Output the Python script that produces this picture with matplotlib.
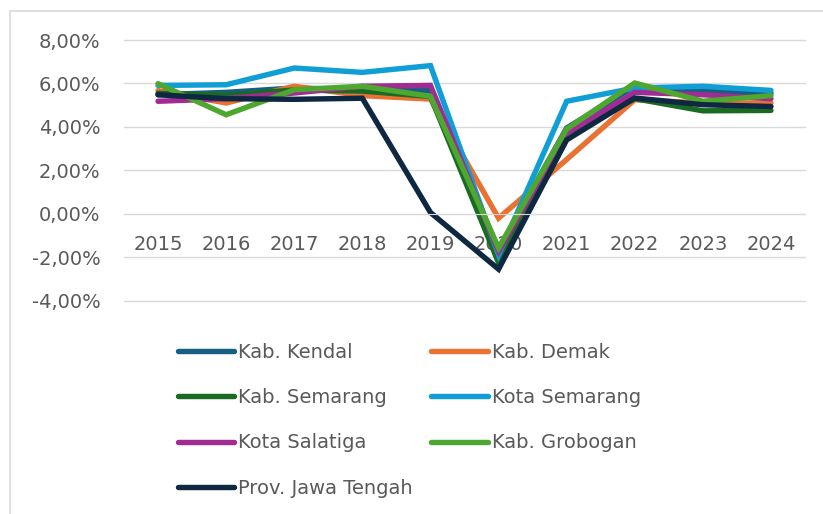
import numpy as np
import matplotlib.pyplot as plt
from matplotlib.patches import Rectangle
from matplotlib.ticker import FuncFormatter

plt.rcParams['font.family'] = ['DejaVu Sans']

years = ["2015", "2016", "2017", "2018", "2019", "2020", "2021", "2022", "2023", "2024"]

kendal = [5.48, 5.59, 5.79, 5.71, 5.67, -1.65, 3.95, 5.87, 5.64, 5.55]
demak = [5.67, 5.10, 5.87, 5.44, 5.28, -0.20, 2.50, 5.25, 5.10, 5.10]
kab_semarang = [5.55, 5.45, 5.70, 5.65, 5.40, -2.25, 3.70, 5.30, 4.74, 4.76]
kota_semarang = [5.91, 5.94, 6.71, 6.51, 6.82, -1.89, 5.18, 5.79, 5.87, 5.68]
salatiga = [5.18, 5.30, 5.56, 5.87, 5.91, -1.73, 3.70, 5.59, 5.48, 5.30]
grobogan = [5.99, 4.56, 5.71, 5.87, 5.41, -1.57, 3.90, 6.02, 5.18, 5.44]
jateng = [5.48, 5.30, 5.27, 5.32, 0.06, -2.55, 3.40, 5.33, 5.02, 4.94]

series = [
    ("Kab. Kendal", kendal, "#156082"),
    ("Kab. Demak", demak, "#E97132"),
    ("Kab. Semarang", kab_semarang, "#196B24"),
    ("Kota Semarang", kota_semarang, "#0F9ED5"),
    ("Kota Salatiga", salatiga, "#A02B93"),
    ("Kab. Grobogan", grobogan, "#4EA72E"),
    ("Prov. Jawa Tengah", jateng, "#0E2841"),
]

fig = plt.figure(figsize=(8.23, 5.14), dpi=100)
W, H = 823, 514
ax = fig.add_axes([124 / W, 1 - 300.7 / H, (805 - 124) / W, (300.7 - 40) / H])

x = np.arange(len(years))
lines = {}
for name, vals, col in series:
    ln, = ax.plot(x, vals, color=col, lw=3.9, solid_joinstyle='miter',
                  solid_capstyle='round', label=name)
    lines[name] = ln

ax.set_xlim(-0.5, len(years) - 0.5)
ax.set_ylim(-4, 8)
ax.set_yticks(np.arange(-4, 9, 2))
ax.yaxis.set_major_formatter(FuncFormatter(lambda v, p: f"{v:.2f}%".replace(".", ",")))
ax.grid(axis='y', color='#D9D9D9', lw=1.0)
for gl in ax.get_ygridlines():
    gl.set_clip_on(False)
ax.set_axisbelow(True)
for s in ['top', 'right', 'left']:
    ax.spines[s].set_visible(False)
ax.spines['bottom'].set_position(('data', 0))
ax.spines['bottom'].set_color('#D9D9D9')
ax.set_xticks(x)
ax.set_xticklabels(years)
ax.tick_params(axis='x', length=0, pad=15, labelsize=14, colors='#595959')
ax.tick_params(axis='y', length=0, pad=17, labelsize=14, colors='#595959')

# Excel fills the legend row by row, matplotlib column by column
order = ["Kab. Kendal", "Kab. Semarang", "Kota Salatiga", "Prov. Jawa Tengah",
         "Kab. Demak", "Kota Semarang", "Kab. Grobogan"]
leg = fig.legend([lines[n] for n in order], order, ncol=2, frameon=False,
                 loc='upper left', bbox_to_anchor=(178 / W, 1 - 343 / H),
                 borderpad=0, borderaxespad=0,
                 fontsize=14, handlelength=2.9, handletextpad=0.2,
                 labelspacing=1.35, columnspacing=0.95, labelcolor='#595959')
for h in leg.legend_handles:
    h.set_linewidth(3.9)

fig.patches.append(Rectangle((10 / W, -0.1), 1.2, 1 - 11 / H + 0.1,
                             transform=fig.transFigure, fill=False,
                             edgecolor='#D9D9D9', lw=1.2))

fig.savefig("out.png", dpi=100)
